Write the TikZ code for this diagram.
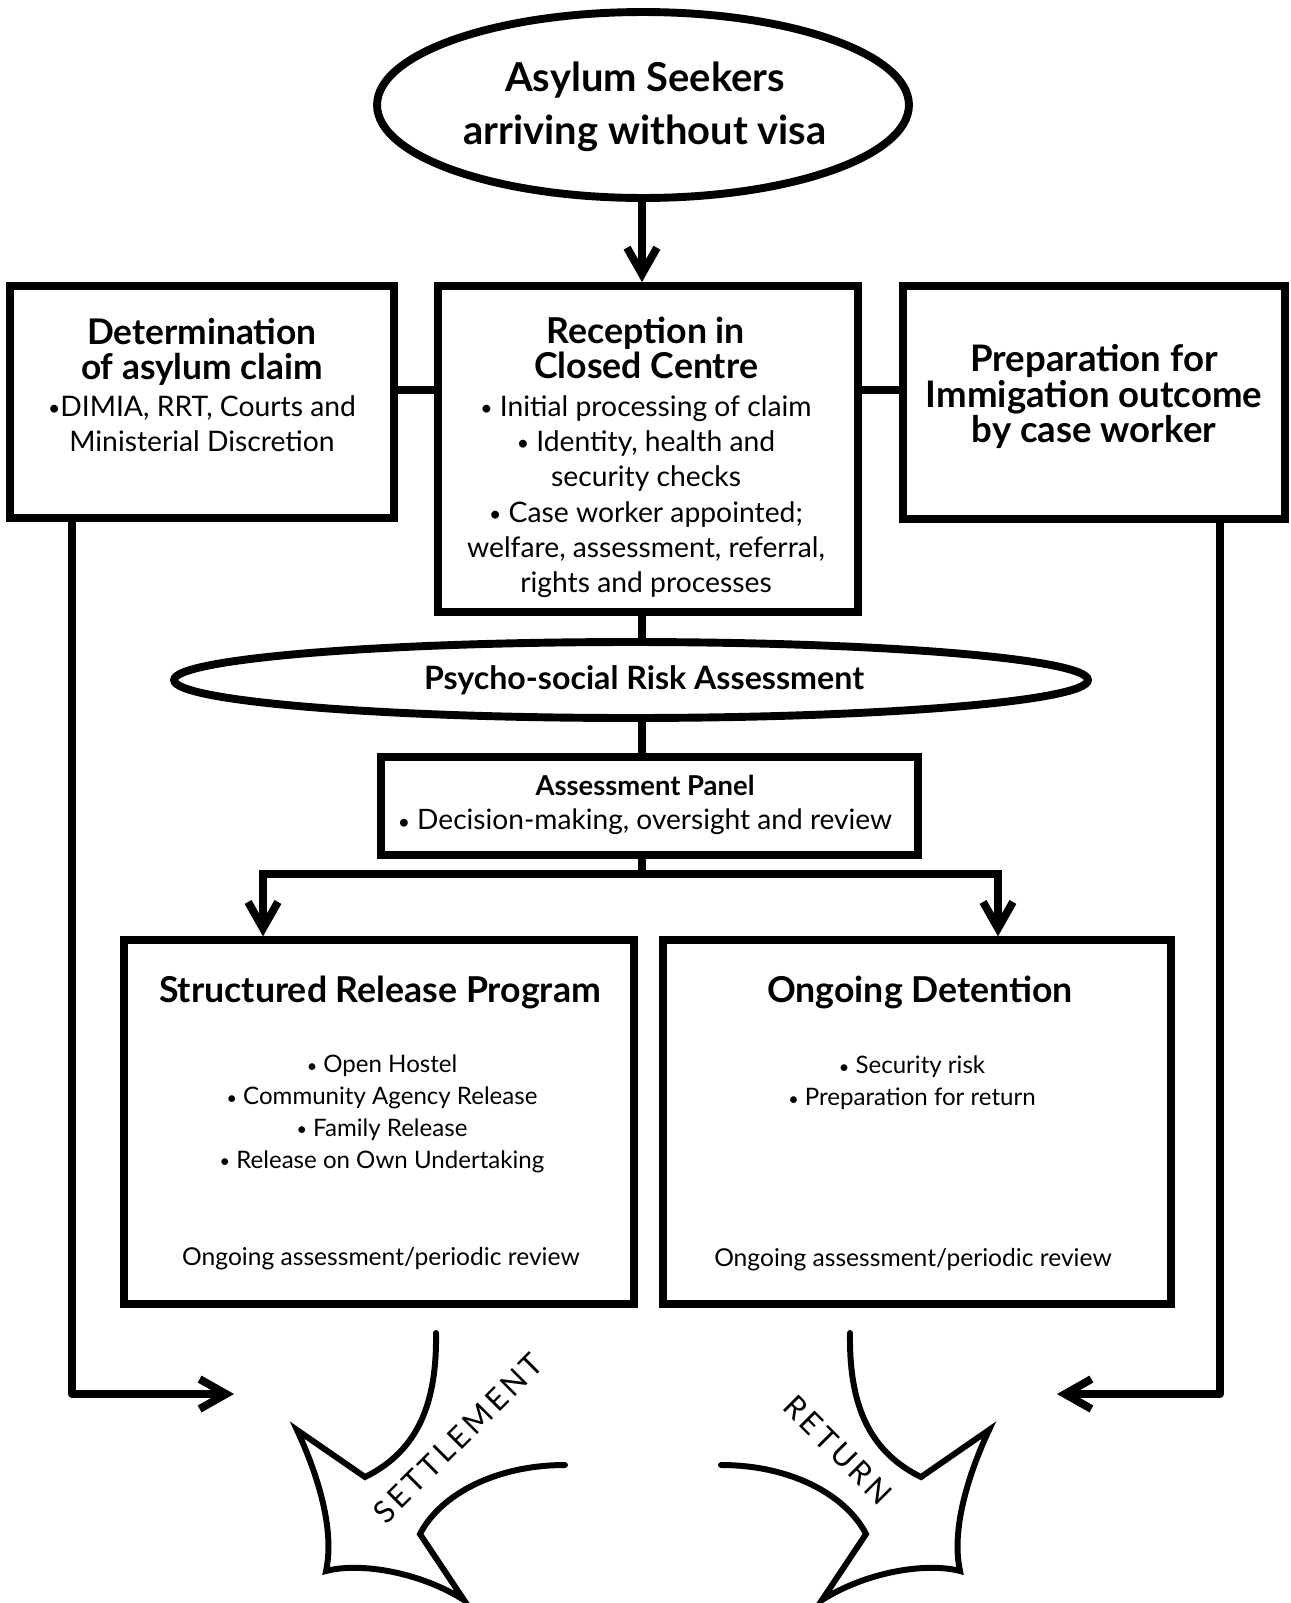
\documentclass[tikz,border=0pt]{standalone}
\usepackage{fontspec}
\setmainfont{Lato}
\usetikzlibrary{arrows.meta,shapes.geometric,calc}
\lineskiplimit=-100pt
\newcommand\mybul{\raisebox{0.05ex}{\scalebox{0.75}{•}}}
\newcommand\myftop{\bfseries\fontsize{22.7}{30}\selectfont}
\newcommand\myftitle{\bfseries\fontsize{20.3}{19.8}\selectfont}
\newcommand\myftitleL{\bfseries\fontsize{20.1}{20.2}\selectfont}
\newcommand\myftitleR{\bfseries\fontsize{20.8}{20.3}\selectfont}
\newcommand\myfbody{\fontsize{16.1}{20.1}\selectfont}
\newcommand\myfpsy{\bfseries\fontsize{18.3}{22}\selectfont}
\newcommand\myfpan{\bfseries\fontsize{15.6}{19}\selectfont}
\newcommand\myfpanb{\fontsize{16}{19}\selectfont}
\newcommand\myfsmall{\fontsize{13.7}{18.1}\selectfont}
\newcommand\myfongo{\fontsize{14}{18.1}\selectfont}
\newcommand\myfarrow{\fontsize{17.4}{20}\selectfont\addfontfeatures{LetterSpace=12}}
\tikzset{
  barb/.tip={Straight Barb[length=15pt,width=17pt]},
  box/.style={draw, rectangle, line width=4.5pt, inner sep=0pt},
  oval/.style={draw, ellipse, line width=4.5pt, inner sep=0pt},
  conn/.style={line width=4.5pt},
  txt/.style={inner sep=0pt, align=center},
  bigarrow/.style={line width=3.4pt, line cap=round, line join=miter, miter limit=20},
}
\begin{document}
\begin{tikzpicture}[x=0.02cm,y=-0.02cm]
\useasboundingbox (0,0) rectangle (1291,1603);
\fill[white] (0,0) rectangle (1291,1603);

% shapes
\node[oval, minimum width=10.64cm, minimum height=3.72cm] (top) at (643,105) {};
\node[box, minimum width=7.69cm, minimum height=4.63cm] (L) at (202,402) {};
\node[box, minimum width=8.39cm, minimum height=6.52cm] (C) at (648,449) {};
\node[box, minimum width=7.64cm, minimum height=4.66cm] (R) at (1094,402.5) {};
\node[oval, minimum width=18.28cm, minimum height=1.52cm] (psy) at (631,680) {};
\node[box, minimum width=10.74cm, minimum height=1.96cm] (panel) at (649.5,806) {};
\node[box, minimum width=10.21cm, minimum height=7.27cm] (SRP) at (379,1122) {};
\node[box, minimum width=10.16cm, minimum height=7.27cm] (OD) at (917,1122) {};

% texts
\node[txt, font=\myftop] (toptext) at (645,106.5) {Asylum Seekers\\arriving without visa};
\node[txt, font=\myftitleL] (Lt) at (202,352) {Determination\\of asylum claim};
\node[txt, font=\myfbody] (Lb) at (202,424) {\mybul DIMIA, RRT, Courts and\\Ministerial Discretion};
\node[txt, font=\myftitle] (Ct) at (646,347.5) {Reception in\\Closed Centre};
\node[txt, font=\myfbody] (Cb) at (646,496.5) {\mybul\ Initial processing of claim\\\mybul\ Identity, health and\\security checks\\\mybul\ Case worker appointed;\\welfare, assessment, referral,\\rights and processes};
\node[txt, font=\myftitleR] (Rt) at (1094,396.5) {Preparation for\\Immigation outcome\\by case worker};
\node[txt, font=\myfpsy] (psytext) at (644,680) {Psycho-social Risk Assessment};
\node[txt, font=\myfpan] (pant) at (645,785) {Assessment Panel};
\node[txt, font=\myfpanb] (panb) at (645,822) {\mybul\ Decision-making, oversight and review};
\node[txt, font=\myftitle] (SRPt) at (380,992) {Structured Release Program};
\node[txt, font=\myfsmall] (SRPb) at (382,1114) {\mybul\ Open Hostel\\\mybul\ Community Agency Release\\\mybul\ Family Release\\\mybul\ Release on Own Undertaking};
\node[txt, font=\myfongo] (SRPo) at (381,1259) {Ongoing assessment/periodic review};
\node[txt, font=\myftitle] (ODt) at (920,992) {Ongoing Detention};
\node[txt, font=\myfsmall] (ODb) at (912,1083) {\mybul\ Security risk\\\mybul\ Preparation for return};
\node[txt, font=\myfongo] (ODo) at (913,1260) {Ongoing assessment/periodic review};

% coordinates
\coordinate (xc) at (642,0);
\coordinate (yl) at (0,390);
\coordinate (br) at (642,874);
\coordinate (bl) at (263,874);
\coordinate (brr) at (998,874);
\coordinate (xll) at (72,1394);
\coordinate (lt) at (234,1394);
\coordinate (xrr) at (1220,1394);
\coordinate (rt) at (1057,1394);

% connectors
\draw[conn, -{barb}] (top.south -| xc) -- (C.north -| xc);
\draw[conn] (L.east |- yl) -- (C.west |- yl);
\draw[conn] (C.east |- yl) -- (R.west |- yl);
\draw[conn] (C.south -| xc) -- (psy.north -| xc);
\draw[conn] (psy.south -| xc) -- (panel.north -| xc);
\draw[conn] (panel.south -| xc) -- (br);
\draw[conn, {barb}-{barb}] (SRP.north -| bl) -- (bl) -- (brr) -- (OD.north -| brr);
\draw[conn, line join=round, -{barb}] (L.south -| xll) -- (xll) -- (lt);
\draw[conn, line join=round, -{barb}] (R.south -| xrr) -- (xrr) -- (rt);

% big curved arrows
\draw[bigarrow] (436,1333) .. controls (437,1400) and (420,1450) .. (365,1477)
  -- (297,1430) .. controls (318,1475) and (335,1530) .. (326,1571)
  .. controls (360,1562) and (420,1572) .. (464,1600)
  -- (420,1534) .. controls (440,1495) and (495,1465) .. (565,1465);
\begin{scope}[shift={(1286,0)}, xscale=-1]
\draw[bigarrow] (436,1333) .. controls (437,1400) and (420,1450) .. (365,1477)
  -- (297,1430) .. controls (318,1475) and (335,1530) .. (326,1571)
  .. controls (360,1562) and (420,1572) .. (464,1600)
  -- (420,1534) .. controls (440,1495) and (495,1465) .. (565,1465);
\end{scope}
\node[txt, font=\myfarrow, rotate=45] (settle) at (458,1438) {SETTLEMENT};
\node[txt, font=\myfarrow, rotate=-45] (ret) at (838,1450) {RETURN};
\end{tikzpicture}
\end{document}
